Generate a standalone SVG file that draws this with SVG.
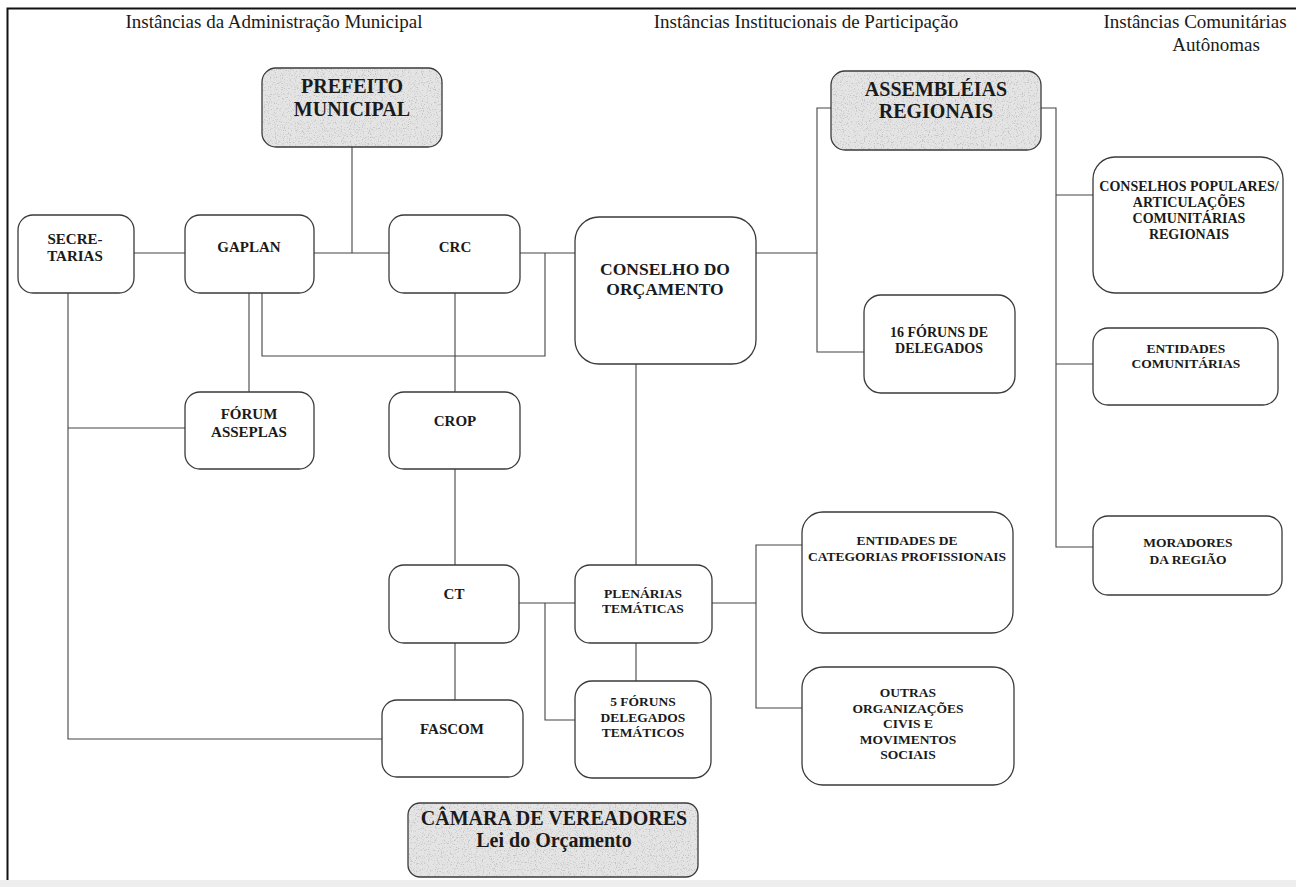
<svg xmlns="http://www.w3.org/2000/svg" width="1296" height="887" viewBox="0 0 1296 887">
<style>
.bx{fill:#ffffff;stroke:#3a3a3a;stroke-width:1.3}
.gr{fill:#e4e4e4;stroke:#3a3a3a;stroke-width:1.3}
.sp{fill:#ffffff;stroke:none}
.t{font-family:"Liberation Serif","Times New Roman",serif;font-weight:bold;font-size:13.5px;fill:#1a1a1a;text-anchor:middle}
.ts{font-size:15px}
.tm{font-size:14px}
.tl{font-size:17.5px}
.th{font-size:20px}
.hd{font-family:"Liberation Serif","Times New Roman",serif;font-size:19px;fill:#1a1a1a;text-anchor:middle}
.c{fill:none;stroke:#444;stroke-width:1.1}
</style>
<defs>
<filter id="speck" x="0" y="0" width="1" height="1">
<feTurbulence type="fractalNoise" baseFrequency="0.85" numOctaves="2" seed="3" result="n"/>
<feColorMatrix in="n" type="matrix" values="0 0 0 0 0.55  0 0 0 0 0.55  0 0 0 0 0.55  5 0 0 0 -2.75" result="d"/>
<feComposite in="d" in2="SourceAlpha" operator="in"/>
</filter>
</defs>
<rect x="0" y="0" width="1296" height="887" fill="#ffffff"/>
<rect x="0" y="880" width="1296" height="7" fill="#eeeeee"/>
<path d="M7.5 880 V8.5 H1296" fill="none" stroke="#111" stroke-width="2"/>
<g id="headers">
<text class="hd" x="274" y="28">Instâncias da Administração Municipal</text>
<text class="hd" x="806" y="28">Instâncias Institucionais de Participação</text>
<text class="hd" x="1195" y="28">Instâncias Comunitárias</text>
<text class="hd" x="1216" y="51">Autônomas</text>
</g>
<g id="connectors">
<path class="c" d="M352 147 V253"/>
<path class="c" d="M134 253 H185"/>
<path class="c" d="M314 253 H389"/>
<path class="c" d="M520 253 H575"/>
<path class="c" d="M545 253 V356 H262 V293"/>
<path class="c" d="M249 293 V392"/>
<path class="c" d="M455 293 V392"/>
<path class="c" d="M455 469 V565"/>
<path class="c" d="M455 643 V700"/>
<path class="c" d="M68 293 V739 H382"/>
<path class="c" d="M68 428 H185"/>
<path class="c" d="M636 364 V565"/>
<path class="c" d="M519 603 H575"/>
<path class="c" d="M545 603 V720 H575"/>
<path class="c" d="M636 643 V681"/>
<path class="c" d="M712 603 H756"/>
<path class="c" d="M802 545 H756 V708 H802"/>
<path class="c" d="M756 253 H817"/>
<path class="c" d="M831 108 H817 V352 H864"/>
<path class="c" d="M1041 108 H1056 V547 H1093"/>
<path class="c" d="M1056 195 H1093"/>
<path class="c" d="M1056 364 H1093"/>
</g>
<g id="prefeito">
<rect class="gr" x="262" y="68" width="180" height="79" rx="14"/>
<rect class="sp" x="263" y="69" width="178" height="77" rx="13" filter="url(#speck)"/>
<text class="t th" x="352" y="93">PREFEITO</text>
<text class="t th" x="352" y="116">MUNICIPAL</text>
</g>
<g id="secretarias">
<rect class="bx" x="18" y="215" width="116" height="78" rx="15"/>
<text class="t ts" x="75" y="244">SECRE-</text>
<text class="t ts" x="75" y="261">TARIAS</text>
</g>
<g id="gaplan">
<rect class="bx" x="185" y="215" width="129" height="78" rx="15"/>
<text class="t ts" x="249" y="252">GAPLAN</text>
</g>
<g id="crc">
<rect class="bx" x="389" y="215" width="131" height="78" rx="15"/>
<text class="t ts" x="455" y="252">CRC</text>
</g>
<g id="conselho">
<rect class="bx" x="575" y="217" width="181" height="147" rx="24"/>
<text class="t tl" x="665" y="275">CONSELHO DO</text>
<text class="t tl" x="665" y="295">ORÇAMENTO</text>
</g>
<g id="assembleias">
<rect class="gr" x="831" y="71" width="210" height="79" rx="14"/>
<rect class="sp" x="832" y="72" width="208" height="77" rx="13" filter="url(#speck)"/>
<text class="t th" x="936" y="96">ASSEMBLÉIAS</text>
<text class="t th" x="936" y="118">REGIONAIS</text>
</g>
<g id="foruns16">
<rect class="bx" x="864" y="295" width="151" height="98" rx="17"/>
<text class="t tm" x="939" y="337">16 FÓRUNS DE</text>
<text class="t tm" x="939" y="353">DELEGADOS</text>
</g>
<g id="conselhos-populares">
<rect class="bx" x="1093" y="157" width="190" height="136" rx="22"/>
<text class="t tm" x="1189" y="191">CONSELHOS POPULARES/</text>
<text class="t tm" x="1189" y="207">ARTICULAÇÕES</text>
<text class="t tm" x="1189" y="223">COMUNITÁRIAS</text>
<text class="t tm" x="1189" y="239">REGIONAIS</text>
</g>
<g id="entidades-comunitarias">
<rect class="bx" x="1093" y="328" width="185" height="77" rx="15"/>
<text class="t" x="1186" y="353">ENTIDADES</text>
<text class="t" x="1186" y="368">COMUNITÁRIAS</text>
</g>
<g id="moradores">
<rect class="bx" x="1093" y="516" width="189" height="79" rx="15"/>
<text class="t" x="1188" y="547">MORADORES</text>
<text class="t" x="1188" y="564">DA REGIÃO</text>
</g>
<g id="forum-asseplas">
<rect class="bx" x="185" y="392" width="129" height="77" rx="15"/>
<text class="t ts" x="249" y="419">FÓRUM</text>
<text class="t ts" x="249" y="437">ASSEPLAS</text>
</g>
<g id="crop">
<rect class="bx" x="389" y="392" width="131" height="77" rx="15"/>
<text class="t ts" x="455" y="426">CROP</text>
</g>
<g id="ct">
<rect class="bx" x="389" y="565" width="130" height="78" rx="15"/>
<text class="t ts" x="454" y="599">CT</text>
</g>
<g id="plenarias">
<rect class="bx" x="575" y="565" width="137" height="78" rx="15"/>
<text class="t" x="643" y="598">PLENÁRIAS</text>
<text class="t" x="643" y="613">TEMÁTICAS</text>
</g>
<g id="foruns5">
<rect class="bx" x="575" y="681" width="136" height="97" rx="17"/>
<text class="t" x="643" y="706">5 FÓRUNS</text>
<text class="t" x="643" y="722">DELEGADOS</text>
<text class="t" x="643" y="737">TEMÁTICOS</text>
</g>
<g id="fascom">
<rect class="bx" x="382" y="700" width="141" height="77" rx="15"/>
<text class="t ts" x="452" y="734">FASCOM</text>
</g>
<g id="entidades-categorias">
<rect class="bx" x="802" y="512" width="211" height="121" rx="21"/>
<text class="t" x="907" y="545">ENTIDADES DE</text>
<text class="t" x="907" y="561">CATEGORIAS PROFISSIONAIS</text>
</g>
<g id="outras">
<rect class="bx" x="802" y="667" width="212" height="118" rx="21"/>
<text class="t" x="908" y="697">OUTRAS</text>
<text class="t" x="908" y="713">ORGANIZAÇÕES</text>
<text class="t" x="908" y="728">CIVIS E</text>
<text class="t" x="908" y="744">MOVIMENTOS</text>
<text class="t" x="908" y="759">SOCIAIS</text>
</g>
<g id="camara">
<rect class="gr" x="408" y="803" width="290" height="74" rx="12"/>
<rect class="sp" x="409" y="804" width="288" height="72" rx="11" filter="url(#speck)"/>
<text class="t th" x="554" y="825">CÂMARA DE VEREADORES</text>
<text class="t th" x="554" y="847">Lei do Orçamento</text>
</g>
</svg>
